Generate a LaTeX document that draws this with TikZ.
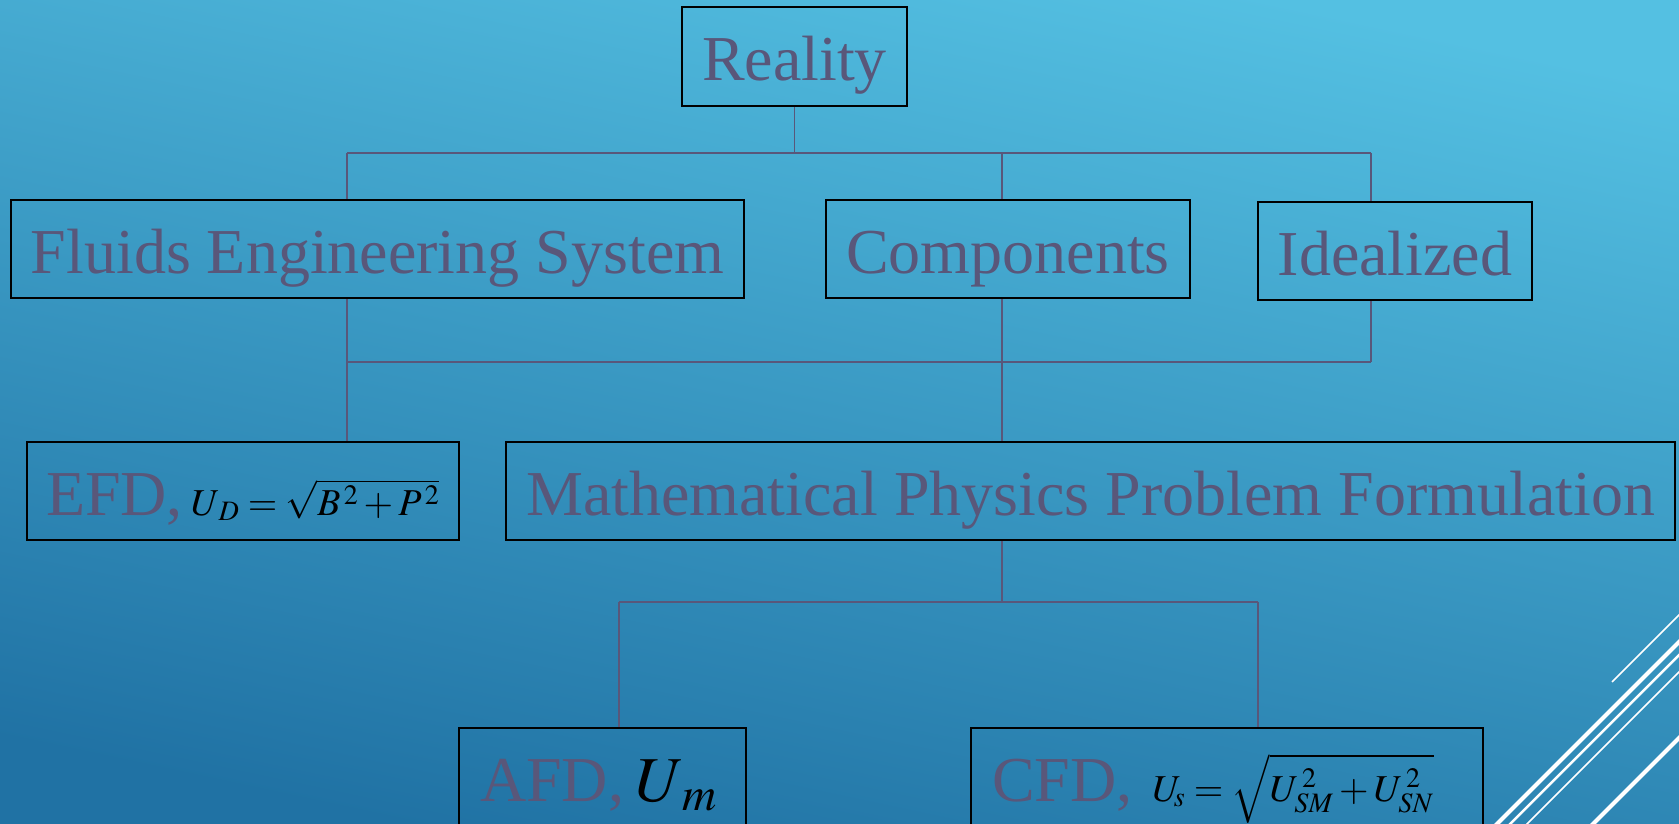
\documentclass[tikz,border=0pt]{standalone}
\usepackage{mathptmx}
\usepackage{fontspec}
\setmainfont{Liberation Serif}
\definecolor{txtc}{RGB}{89,87,122}
\definecolor{bgtop}{RGB}{84,192,226}
\definecolor{bgbot}{RGB}{32,114,164}
\begin{document}
\begin{tikzpicture}[x=1pt,y=-1pt,
  box/.style={draw=black,line width=2pt,inner sep=0pt,text=txtc,
    font=\fontsize{64}{70}\selectfont,minimum height=98pt,
    text height=50pt,text depth=2pt},
  link/.style={draw=txtc,line width=1.7pt},
  deco/.style={draw=white}]
\useasboundingbox (0,0) rectangle (1679,824);
\clip (0,0) rectangle (1679,824);
\shade[top color=bgtop,bottom color=bgbot,shading angle=-12] (-10,-10) rectangle (1689,834);
% decorative lines
\draw[deco,line width=1.5pt] (1612,682) -- (1699,595);
\draw[deco,line width=4pt] (1477,844) -- (1699,622);
\draw[deco,line width=2.5pt] (1490,844) -- (1699,635);
\draw[deco,line width=1.5pt] (1507,844) -- (1699,652);
\draw[deco,line width=4pt] (1573,844) -- (1699,718);
% boxes
\node[box,minimum width=225pt,minimum height=99pt] (reality) at (794.5,56.5) {Reality};
\node[box,minimum width=733pt] (fluids) at (377.5,249) {Fluids Engineering System};
\node[box,minimum width=364pt] (comp) at (1008,249) {Components};
\node[box,minimum width=274pt] (ideal) at (1395,251) {Idealized};
\node[box,minimum width=432pt] (efd) at (243,491) {\makebox[394pt][l]{EFD,\hspace{8pt}{\fontsize{38}{46}\selectfont\color{black}$U_{\,D}=\sqrt{B^{\,2}+P^{\,2}}$}}};
\node[box,minimum width=1169pt] (math) at (1090.5,491) {Mathematical Physics Problem Formulation};
\node[box,minimum width=287pt] (afd) at (602.5,777) {\makebox[245pt][l]{AFD,\hspace{12pt}{\color{black}$U_{\,m}$}}};
\node[box,minimum width=512pt] (cfd) at (1227,777) {\makebox[470pt][l]{CFD,\hspace{20pt}{\fontsize{38}{44}\selectfont\color{black}$U_{\!s}=\sqrt{U_{SM}^{\,2}+U_{SN}^{\,2}}$}}};
% bus coordinates
\coordinate (b1l) at (347,153);
\coordinate (b1c) at (1002,153);
\coordinate (b1r) at (1371,153);
\coordinate (b2l) at (347,362);
\coordinate (b2c) at (1002,362);
\coordinate (b2r) at (1371,362);
\coordinate (b3l) at (619,602);
\coordinate (b3c) at (1002,602);
\coordinate (b3r) at (1258,602);
% connectors
\draw[link] (reality.south) -- (reality.south |- b1l);
\draw[link] (b1l) -- (b1r);
\draw[link] (b1l) -- (b1l |- fluids.north);
\draw[link] (b1c) -- (b1c |- comp.north);
\draw[link] (b1r) -- (b1r |- ideal.north);
\draw[link] (b2l |- fluids.south) -- (b2l) -- (b2l |- efd.north);
\draw[link] (b2c |- comp.south) -- (b2c) -- (b2c |- math.north);
\draw[link] (b2r |- ideal.south) -- (b2r);
\draw[link] (b2l) -- (b2r);
\draw[link] (b2c |- math.south) -- (b3c);
\draw[link] (b3l) -- (b3r);
\draw[link] (b3l) -- (b3l |- afd.north);
\draw[link] (b3r) -- (b3r |- cfd.north);
\end{tikzpicture}
\end{document}
